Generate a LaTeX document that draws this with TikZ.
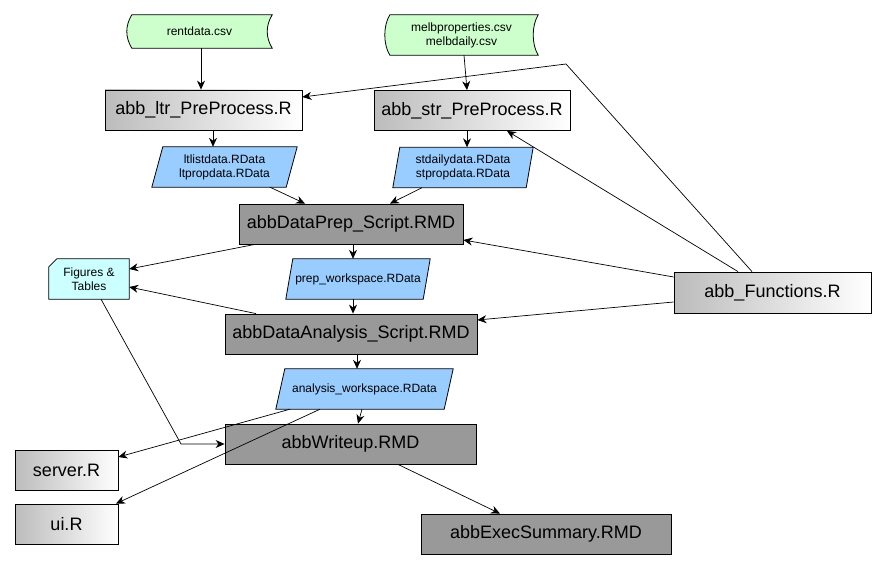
\documentclass[tikz,border=0pt]{standalone}
\usepackage{fontspec}
\setmainfont{Liberation Sans}
\usetikzlibrary{arrows.meta}
\pgfdeclarelayer{bg}
\pgfsetlayers{bg,main}
\definecolor{gradL}{RGB}{188,188,188}
\definecolor{darkbox}{RGB}{153,153,153}
\definecolor{parablue}{RGB}{153,204,255}
\definecolor{storegreen}{RGB}{204,255,204}
\definecolor{cardcyan}{RGB}{204,255,255}
\tikzset{
  big/.style={font=\fontsize{18}{21}\selectfont},
  small/.style={font=\fontsize{12}{14}\selectfont, align=center},
  base/.style={inner sep=0pt, minimum height=40pt},
  gradbox/.style={base, big, draw=black, line width=0.8pt, left color=gradL, right color=white},
  darkboxst/.style={base, big, draw=black, line width=0.8pt, fill=darkbox},
  plain/.style={base, small},
  shapeline/.style={draw=black, line width=0.8pt},
  arr/.style={-{Stealth[length=9pt,width=8pt]}, line width=0.7pt, black},
}
\newcommand\parashape[3]{% name, slant, fill
  \begin{pgfonlayer}{bg}
  \path[shapeline, fill=#3] ([xshift=#2pt]#1.north west) -- (#1.north east) -- ([xshift=-#2pt]#1.south east) -- (#1.south west) -- cycle;
  \end{pgfonlayer}}
\newcommand\storeshape[1]{%
  \begin{pgfonlayer}{bg}
  \path[shapeline, fill=storegreen] ([xshift=5pt]#1.north west)
    .. controls ([xshift=-1.67pt,yshift=-11pt]#1.north west) and ([xshift=-1.67pt,yshift=11pt]#1.south west) .. ([xshift=5pt]#1.south west)
    -- (#1.south east)
    .. controls ([xshift=-6.67pt,yshift=11pt]#1.south east) and ([xshift=-6.67pt,yshift=-11pt]#1.north east) .. (#1.north east)
    -- cycle;
  \end{pgfonlayer}}
\begin{document}
\begin{tikzpicture}[x=1pt,y=-1pt]
\begin{pgfonlayer}{bg}
\fill[white] (0,0) rectangle (885,569);
\end{pgfonlayer}
\useasboundingbox (0,0) rectangle (885,569);

% data files
\node[plain, minimum width=145pt, minimum height=33pt] (rent) at (199.5,31.5) {rentdata.csv};
\storeshape{rent}
\node[plain, minimum width=153pt] (melb) at (461.5,35) {melbproperties.csv\\melbdaily.csv};
\storeshape{melb}

% preprocess scripts
\node[gradbox, minimum width=197pt] (ltr) at (203.5,110) {abb\_ltr\_PreProcess.R};
\node[gradbox, minimum width=196pt] (str) at (472,110.5) {abb\_str\_PreProcess.R};
\node[gradbox, minimum width=197pt, minimum height=41pt] (fun) at (772.5,292.5) {abb\_Functions.R};

% RData
\node[plain, minimum width=145pt] (ltlist) at (224.5,167) {ltlistdata.RData\\ltpropdata.RData};
\parashape{ltlist}{11}{parablue}
\node[plain, minimum width=140pt] (stdaily) at (463,167.5) {stdailydata.RData\\stpropdata.RData};
\parashape{stdaily}{7}{parablue}

\node[darkboxst, minimum width=224pt] (prep) at (351,224) {abbDataPrep\_Script.RMD};
\node[plain, minimum width=144pt] (prepws) at (358,279) {prep\_workspace.RData};
\parashape{prepws}{7}{parablue}
\node[darkboxst, minimum width=252pt] (analysis) at (351,334) {abbDataAnalysis\_Script.RMD};
\node[plain, minimum width=177pt] (aws) at (364.5,389) {analysis\_workspace.RData};
\parashape{aws}{9}{parablue}
\node[darkboxst, minimum width=251pt] (writeup) at (350.5,444) {abbWriteup.RMD};
\node[darkboxst, minimum width=250pt] (exec) at (546,534) {abbExecSummary.RMD};

% figures
\node[plain, minimum width=80pt] (figs) at (89,279) {Figures \&\\Tables};
\begin{pgfonlayer}{bg}
\path[shapeline, fill=cardcyan] ([xshift=8pt]figs.north west) -- (figs.north east) -- (figs.south east) -- (figs.south west) -- ([yshift=-8pt]figs.north west) -- cycle;
\end{pgfonlayer}

\node[gradbox, minimum width=103pt] (server) at (66.5,470) {server.R};
\node[gradbox, minimum width=103pt] (ui) at (66.5,524) {ui.R};

\coordinate (bend) at (566,64);
\coordinate (fcorner) at (181,444);

% connectors
\draw[arr] ([xshift=1.5pt]rent.south) -- ([xshift=-2.5pt]ltr.north);
\draw[arr] ([xshift=2.5pt]melb.south) -- ([xshift=-5pt]str.north);
\draw[arr] ([xshift=-20.5pt]fun.north) -- (bend) -- ([yshift=13pt]ltr.east);
\draw[arr] ([xshift=-34.5pt]fun.north) -- ([xshift=35pt]str.south);
\draw[arr] ([yshift=15.5pt]fun.west) -- ([yshift=-16pt]prep.east);
\draw[arr] ([yshift=-9.5pt]fun.west) -- ([yshift=14pt]analysis.east);
\draw[arr] ([xshift=9.5pt]ltr.south) -- ([xshift=-11.5pt]ltlist.north);
\draw[arr] ([xshift=-5pt]str.south) -- ([xshift=4pt]stdaily.north);
\draw[arr] ([xshift=45.5pt]ltlist.south) -- ([xshift=-46pt]prep.north);
\draw[arr] ([xshift=-41pt]stdaily.south) -- ([xshift=39pt]prep.north);
\draw[arr] ([xshift=-96pt]prep.south) -- ([yshift=10pt]figs.east);
\draw[arr] ([xshift=2pt]prep.south) -- ([xshift=-5pt]prepws.north);
\draw[arr] ([xshift=-5pt]prepws.south) -- ([xshift=2pt]analysis.north);
\draw[arr] ([xshift=-95pt]analysis.north) -- ([yshift=-8pt]figs.east);
\draw[arr] ([xshift=6pt]analysis.south) -- ([xshift=-7.5pt]aws.north);
\draw[arr] ([xshift=-2.5pt]aws.south) -- ([xshift=7.5pt]writeup.north);
\draw[arr] ([xshift=12pt]figs.south) -- (fcorner) -- (writeup.west);
\draw[arr] ([xshift=-74.5pt]aws.south) -- ([yshift=13pt]server.east);
\draw[arr] ([xshift=-44.5pt]aws.south) -- ([xshift=49.5pt]ui.north);
\draw[arr] ([xshift=47.5pt]writeup.south) -- ([xshift=-46pt]exec.north);
\end{tikzpicture}
\end{document}
